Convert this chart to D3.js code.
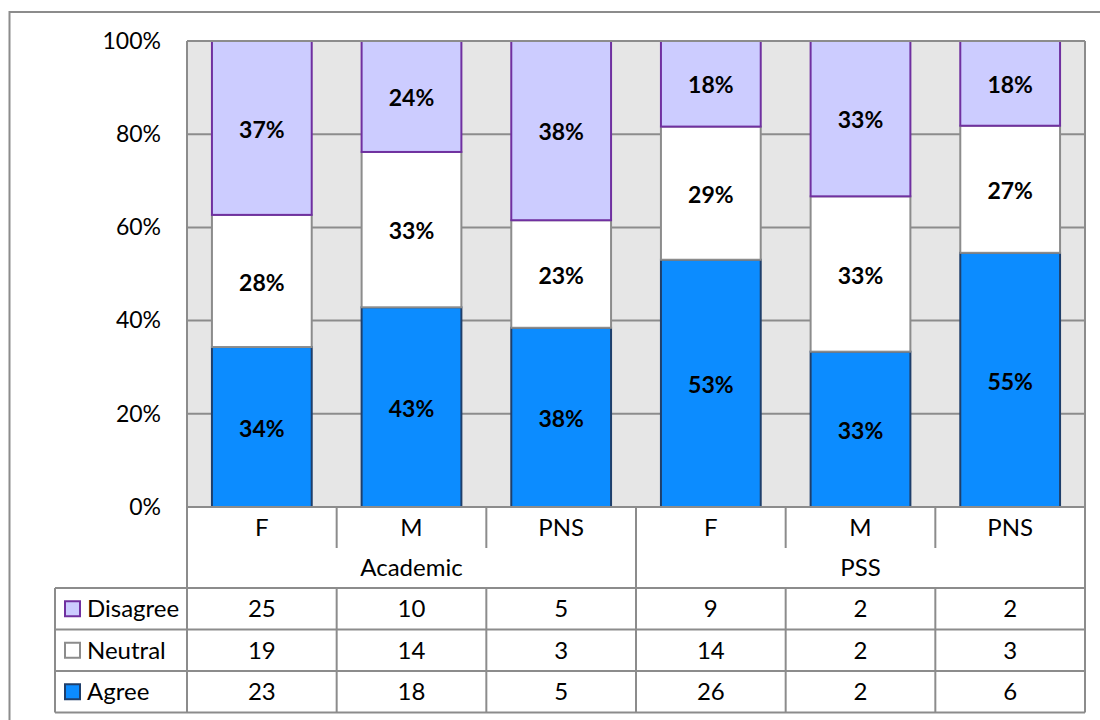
<!DOCTYPE html>
<html>
<head>
<meta charset="utf-8">
<script src="https://cdn.jsdelivr.net/npm/d3@7"></script>
<style>
	body { margin: 0; background: #fff; }
	svg { display: block; font-family: Lato, "Open Sans", sans-serif; }
</style>
</head>
<body>
<svg id="chart" width="1100" height="720"></svg>
<script>
// data (counts, the bars show the share of each column)
const categories = ["F", "M", "PNS", "F", "M", "PNS"];
const groups = ["Academic", "PSS"];
const groupOf = ["Academic", "Academic", "Academic", "PSS", "PSS", "PSS"];
const seriesNames = ["Agree", "Neutral", "Disagree"];
const agree = [23, 18, 5, 26, 2, 6];
const neutral = [19, 14, 3, 14, 2, 3];
const disagree = [25, 10, 5, 9, 2, 2];
const yTicks = [0, 0.2, 0.4, 0.6, 0.8, 1];

const colors = {
	Agree: { fill: "#0C8CFF", stroke: "#1F3F6B" },
	Neutral: { fill: "#FFFFFF", stroke: "#8C8C8C" },
	Disagree: { fill: "#CCCCFF", stroke: "#7030A0" }
};
const counts = { Agree: agree, Neutral: neutral, Disagree: disagree };

function whenDocumentLoaded(action) {
	if (document.readyState === "loading") {
		document.addEventListener("DOMContentLoaded", action);
	} else {
		action();
	}
}

whenDocumentLoaded(() => {
	const svg = d3.select("#chart");
	const plot = { left: 187, right: 1085, top: 41, bottom: 507 };
	const lineColor = "#8C8C8C";

	// outer chart border (runs off the right and bottom of the picture)
	svg.append("rect")
		.attr("x", 9.5).attr("y", 12)
		.attr("width", 1120).attr("height", 740)
		.attr("fill", "none")
		.attr("stroke", "#8C8C8C")
		.attr("stroke-width", 2);

	const x = d3.scaleBand()
		.domain(d3.range(categories.length))
		.range([plot.left, plot.right])
		.paddingInner(1 / 3)
		.paddingOuter(1 / 6);
	const step = x.step();

	const y = d3.scaleLinear()
		.domain([0, 1])
		.range([plot.bottom, plot.top]);

	// plot background
	svg.append("rect")
		.attr("x", plot.left).attr("y", plot.top)
		.attr("width", plot.right - plot.left)
		.attr("height", plot.bottom - plot.top)
		.attr("fill", "#E6E6E6");

	// gridlines
	svg.append("g")
		.selectAll("line")
		.data(yTicks)
		.join("line")
		.attr("x1", plot.left).attr("x2", plot.right)
		.attr("y1", d => y(d)).attr("y2", d => y(d))
		.attr("stroke", lineColor)
		.attr("stroke-width", 2);

	// y axis labels
	const yAxis = svg.append("g")
		.attr("transform", `translate(${plot.left - 26},0)`)
		.call(d3.axisLeft(y).tickValues(yTicks).tickFormat(d3.format(".0%")).tickSize(0).tickPadding(0));
	yAxis.select(".domain").remove();
	yAxis.selectAll("text")
		.attr("font-size", 23)
		.attr("font-family", "Lato, sans-serif")
		.attr("fill", "#000");

	// stacked 100% bars
	const rows = categories.map((c, i) => ({ i, Agree: agree[i], Neutral: neutral[i], Disagree: disagree[i] }));
	const stacked = d3.stack()
		.keys(seriesNames)
		.offset(d3.stackOffsetExpand)(rows);

	const layers = svg.append("g")
		.selectAll("g")
		.data(stacked)
		.join("g")
		.attr("fill", d => colors[d.key].fill)
		.attr("stroke", d => colors[d.key].stroke)
		.attr("stroke-width", 2);

	layers.selectAll("rect")
		.data(d => d)
		.join("rect")
		.attr("x", d => x(d.data.i))
		.attr("y", d => y(d[1]))
		.attr("width", x.bandwidth())
		.attr("height", d => y(d[0]) - y(d[1]));

	// data labels
	const labels = svg.append("g")
		.attr("font-size", 23)
		.attr("font-weight", "bold")
		.attr("text-anchor", "middle")
		.attr("fill", "#000");
	stacked.forEach(layer => {
		labels.selectAll(null)
			.data(layer)
			.join("text")
			.attr("x", d => x(d.data.i) + x.bandwidth() / 2)
			.attr("y", d => (y(d[0]) + y(d[1])) / 2)
			.attr("dy", "0.42em")
			.text(d => Math.round((d[1] - d[0]) * 100) + "%");
	});

	// plot border (left and right run down through the table)
	const tableTop = plot.bottom;
	const rowH = 41.5;
	const catRowBottom = tableTop + 41;
	const groupRowBottom = tableTop + 81;
	const tableRows = ["Disagree", "Neutral", "Agree"];
	const tableBottom = groupRowBottom + rowH * tableRows.length;
	const legendLeft = 55;

	const grid = svg.append("g")
		.attr("stroke", lineColor)
		.attr("stroke-width", 2)
		.attr("fill", "none");

	grid.append("line")
		.attr("x1", plot.left).attr("x2", plot.right)
		.attr("y1", plot.top).attr("y2", plot.top);
	grid.append("line")
		.attr("x1", plot.left).attr("x2", plot.right)
		.attr("y1", plot.bottom).attr("y2", plot.bottom);
	grid.append("line")
		.attr("x1", plot.left).attr("x2", plot.left)
		.attr("y1", plot.top).attr("y2", tableBottom);
	grid.append("line")
		.attr("x1", plot.right).attr("x2", plot.right)
		.attr("y1", plot.top).attr("y2", tableBottom);

	// separators between categories
	d3.range(1, categories.length).forEach(i => {
		const sx = plot.left + step * i;
		const isGroupEdge = groupOf[i] !== groupOf[i - 1];
		grid.append("line")
			.attr("x1", sx).attr("x2", sx)
			.attr("y1", tableTop)
			.attr("y2", isGroupEdge ? tableBottom : catRowBottom);
		if (!isGroupEdge) {
			grid.append("line")
				.attr("x1", sx).attr("x2", sx)
				.attr("y1", groupRowBottom).attr("y2", tableBottom);
		}
	});

	// table rows
	d3.range(tableRows.length + 1).forEach(r => {
		const ry = groupRowBottom + rowH * r;
		grid.append("line")
			.attr("x1", legendLeft).attr("x2", plot.right)
			.attr("y1", ry).attr("y2", ry);
	});
	grid.append("line")
		.attr("x1", legendLeft).attr("x2", legendLeft)
		.attr("y1", groupRowBottom).attr("y2", tableBottom);

	const text = svg.append("g")
		.attr("font-size", 24)
		.attr("fill", "#000")
		.attr("text-anchor", "middle");

	// category labels
	text.selectAll(".cat")
		.data(categories)
		.join("text")
		.attr("class", "cat")
		.attr("x", (d, i) => x(i) + x.bandwidth() / 2)
		.attr("y", (tableTop + catRowBottom) / 2)
		.attr("dy", "0.35em")
		.text(d => d);

	// group labels
	text.selectAll(".grp")
		.data(groups)
		.join("text")
		.attr("class", "grp")
		.attr("x", g => {
			const idx = groupOf.map((d, i) => d === g ? i : -1).filter(i => i >= 0);
			return (x(idx[0]) + x(idx[idx.length - 1]) + x.bandwidth()) / 2;
		})
		.attr("y", (catRowBottom + groupRowBottom) / 2)
		.attr("dy", "0.35em")
		.text(d => d);

	// values + legend keys
	tableRows.forEach((name, r) => {
		const cy = groupRowBottom + rowH * r + rowH / 2;
		text.selectAll(null)
			.data(counts[name])
			.join("text")
			.attr("x", (d, i) => x(i) + x.bandwidth() / 2)
			.attr("y", cy)
			.attr("dy", "0.35em")
			.text(d => d);

		svg.append("rect")
			.attr("x", legendLeft + 10).attr("y", cy - 7.5)
			.attr("width", 15).attr("height", 15)
			.attr("fill", colors[name].fill)
			.attr("stroke", colors[name].stroke)
			.attr("stroke-width", 2);
		svg.append("text")
			.attr("x", legendLeft + 32)
			.attr("y", cy)
			.attr("dy", "0.35em")
			.attr("font-size", 24)
			.attr("fill", "#000")
			.text(name);
	});
});
</script>
</body>
</html>
